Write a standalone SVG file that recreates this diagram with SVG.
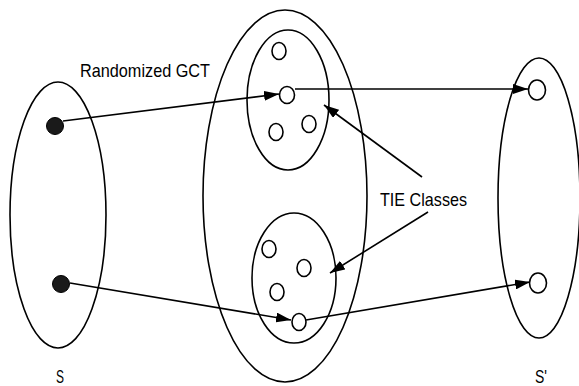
<svg xmlns="http://www.w3.org/2000/svg" width="579" height="386" viewBox="0 0 579 386">
<style>
.sh{fill:none;stroke:#000;stroke-width:1.6}
.dot{fill:#1a1a1a;stroke:#000;stroke-width:1}
.el{fill:#fff;stroke:#000;stroke-width:1.6}
.cn{fill:none;stroke:#000;stroke-width:1.6;marker-end:url(#ah)}
.t{font-family:"Liberation Sans",Arial,sans-serif;font-size:18.5px;fill:#000}
</style>
<defs>
<marker id="ah" markerUnits="userSpaceOnUse" markerWidth="16" markerHeight="10" refX="15" refY="5" orient="auto">
<path d="M0,0 L15,5 L0,10 Z" fill="#000"/>
</marker>
</defs>
<rect width="579" height="386" fill="#fff"/>
<g id="S">
<ellipse class="sh" cx="58" cy="215" rx="48" ry="133"/>
<circle class="dot" cx="55" cy="126" r="8.5"/>
<circle class="dot" cx="61" cy="284" r="8.5"/>
<text class="t" x="60" y="383" text-anchor="middle" textLength="8" lengthAdjust="spacingAndGlyphs" font-size="15.5">S</text>
</g>
<g id="Middle">
<ellipse class="sh" cx="285" cy="196" rx="82" ry="186"/>
</g>
<g id="TIE1">
<ellipse class="sh" cx="288" cy="100" rx="41" ry="70"/>
<ellipse class="el" cx="279" cy="51" rx="7" ry="8.5"/>
<ellipse class="el" cx="287" cy="95" rx="7.5" ry="8.5"/>
<ellipse class="el" cx="276" cy="132" rx="7" ry="8.5"/>
<ellipse class="el" cx="309" cy="124" rx="7" ry="8.5"/>
</g>
<g id="TIE2">
<ellipse class="sh" cx="294" cy="278" rx="42" ry="65"/>
<ellipse class="el" cx="269" cy="249" rx="7" ry="8.5"/>
<ellipse class="el" cx="304" cy="268" rx="7" ry="8.5"/>
<ellipse class="el" cx="277" cy="292" rx="7" ry="8.5"/>
<ellipse class="el" cx="299" cy="322" rx="7" ry="8.5"/>
</g>
<g id="Sprime">
<ellipse class="sh" cx="539" cy="198" rx="41" ry="140"/>
<ellipse class="el" cx="537" cy="90" rx="8.5" ry="10"/>
<ellipse class="el" cx="538" cy="283" rx="8.5" ry="10"/>
<text class="t" x="535" y="383" textLength="12" lengthAdjust="spacingAndGlyphs" font-size="15.5">S'</text>
</g>
<g id="connectors">
<line class="cn" x1="63" y1="121" x2="279" y2="94"/>
<line class="cn" x1="295" y1="89" x2="528" y2="89"/>
<line class="cn" x1="70" y1="283" x2="291" y2="320"/>
<line class="cn" x1="306" y1="320" x2="530" y2="282"/>
<line class="cn" x1="422" y1="177" x2="324" y2="105"/>
<line class="cn" x1="428" y1="212" x2="330" y2="273"/>
</g>
<g id="labels">
<text class="t" x="80" y="77" textLength="130" lengthAdjust="spacingAndGlyphs">Randomized GCT</text>
<text class="t" x="380" y="206" textLength="87" lengthAdjust="spacingAndGlyphs">TIE Classes</text>
</g>
</svg>
